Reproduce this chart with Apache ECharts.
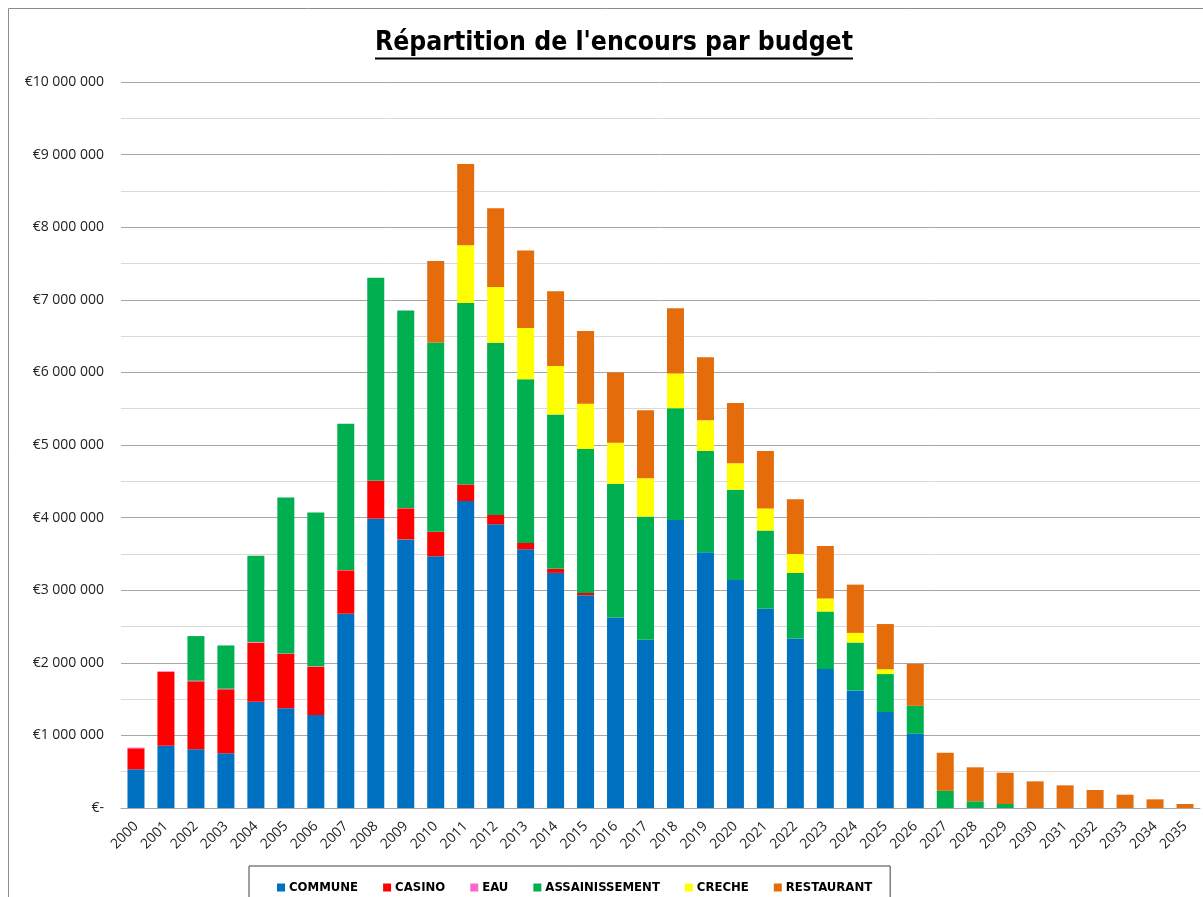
<!DOCTYPE html>
<html>
<head>
<meta charset="utf-8">
<script src="https://cdn.jsdelivr.net/npm/echarts@6/dist/echarts.min.js"></script>
<style>
html,body{margin:0;padding:0;background:#fff;}
#chart{width:1203px;height:897px;}
</style>
</head>
<body>
<div id="chart"></div>
<script>
var years = ['2000','2001','2002','2003','2004','2005','2006','2007','2008','2009','2010','2011','2012','2013','2014','2015','2016','2017','2018','2019','2020','2021','2022','2023','2024','2025','2026','2027','2028','2029','2030','2031','2032','2033','2034','2035'];

var commune = [533000,858000,808000,753000,1464000,1373000,1281000,2676000,3985000,3700000,3468000,4229000,3908000,3564000,3239000,2931000,2624000,2317000,3966000,3523000,3139000,2745000,2336000,1914000,1619000,1321000,1022000,0,0,0,0,0,0,0,0,0];
var casino = [289000,1015000,937000,882000,813000,748000,665000,598000,519000,428000,335000,227000,129000,87000,55000,32000,0,0,0,0,0,0,0,0,0,0,0,0,0,0,0,0,0,0,0,0];
var eau = [10000,10000,8000,8000,8000,8000,6000,5000,4000,3000,2000,1000,0,0,0,0,0,0,0,0,0,0,0,0,0,0,0,0,0,0,0,0,0,0,0,0];
var assainissement = [0,0,615000,596000,1190000,2149000,2117000,2015000,2796000,2720000,2607000,2500000,2373000,2254000,2126000,1982000,1841000,1697000,1541000,1396000,1244000,1077000,902000,793000,660000,524000,385000,236000,92000,55000,0,0,0,0,0,0];
var creche = [0,0,0,0,0,0,0,0,0,0,0,794000,766000,705000,668000,624000,567000,527000,478000,421000,365000,304000,262000,180000,133000,66000,0,0,0,0,0,0,0,0,0,0];
var restaurant = [0,0,0,0,0,0,0,0,0,0,1124000,1120000,1084000,1070000,1029000,1001000,968000,936000,900000,870000,831000,793000,754000,722000,665000,623000,579000,525000,468000,431000,367000,312000,248000,183000,119000,55000];

var seriesNames = ['COMMUNE','CASINO','EAU','ASSAINISSEMENT','CRECHE','RESTAURANT'];
var seriesData = [commune, casino, eau, assainissement, creche, restaurant];
var seriesColors = ['#0070C0','#FF0000','#FF66CC','#00B050','#FFFF00','#E46C0A'];

var titleText = "Répartition de l'encours par budget";
var narrow = "'Liberation Sans Narrow','DejaVu Sans Condensed','Liberation Sans',sans-serif";
var labelFont = "'Open Sans','Noto Sans',sans-serif";

var titleFontSize = 26;
var titleLeft = 375;
var titleTargetW = 478;
var titleMidY = 43;
var cv = document.createElement('canvas').getContext('2d');
cv.font = 'bold ' + titleFontSize + 'px ' + narrow;
var titleW = cv.measureText(titleText).width;
var titleScale = titleTargetW / titleW;

function fmtEuro(v){
  if (v === 0) return '€-';
  var s = String(Math.round(v));
  var out = '';
  while (s.length > 3){ out = ' ' + s.slice(-3) + out; s = s.slice(0, -3); }
  return '€' + s + out;
}

var chart = echarts.init(document.getElementById('chart'), null, {renderer:'canvas'});

var series = seriesNames.map(function(n, i){
  return {
    name: n,
    type: 'bar',
    stack: 'total',
    barWidth: 17,
    data: seriesData[i],
    itemStyle: {color: seriesColors[i]},
    emphasis: {disabled: true}
  };
});

chart.setOption({
  animation: false,
  backgroundColor: '#ffffff',
  graphic: [
    {type:'rect', shape:{x:8.5, y:8.5, width:1210, height:910}, style:{fill:'none', stroke:'#8c8c8c', lineWidth:1}, silent:true},
    {type:'text', x:titleLeft, y:titleMidY, scaleX:titleScale, style:{text:titleText, font:'bold ' + titleFontSize + 'px ' + narrow, fill:'#000', textAlign:'left', textVerticalAlign:'middle'}},
    {type:'line', shape:{x1:titleLeft, y1:58.5, x2:titleLeft + titleTargetW, y2:58.5}, style:{stroke:'#000', lineWidth:2}}
  ],
  grid: {left:121, right:3, top:82, bottom:89, containLabel:false},
  legend: {
    data: seriesNames,
    left: 249,
    top: 866,
    padding: [15, 18, 15, 28],
    itemGap: 25,
    itemWidth: 8,
    itemHeight: 8,
    icon: 'rect',
    borderColor: '#404040',
    borderWidth: 1,
    borderRadius: 0,
    textStyle: {fontFamily: narrow, fontWeight:'bold', fontSize:13, color:'#000', padding:[0,0,0,-1]}
  },
  xAxis: {
    type: 'category',
    data: years,
    axisLine: {show:true, lineStyle:{color:'#a6a6a6'}},
    axisTick: {show:false},
    axisLabel: {rotate:45, interval:0, margin:16, fontFamily:labelFont, fontSize:14, color:'#222'}
  },
  yAxis: {
    type: 'value',
    min: 0,
    max: 10000000,
    interval: 1000000,
    axisLine: {show:false},
    axisTick: {show:false},
    minorTick: {show:false, splitNumber:2},
    splitLine: {show:true, lineStyle:{color:'#a6a6a6', width:1}},
    minorSplitLine: {show:true, lineStyle:{color:'#d9d9d9', width:1}},
    axisLabel: {formatter: fmtEuro, margin:17, fontFamily:labelFont, fontSize:14, color:'#222'}
  },
  series: series
});
</script>
</body>
</html>
